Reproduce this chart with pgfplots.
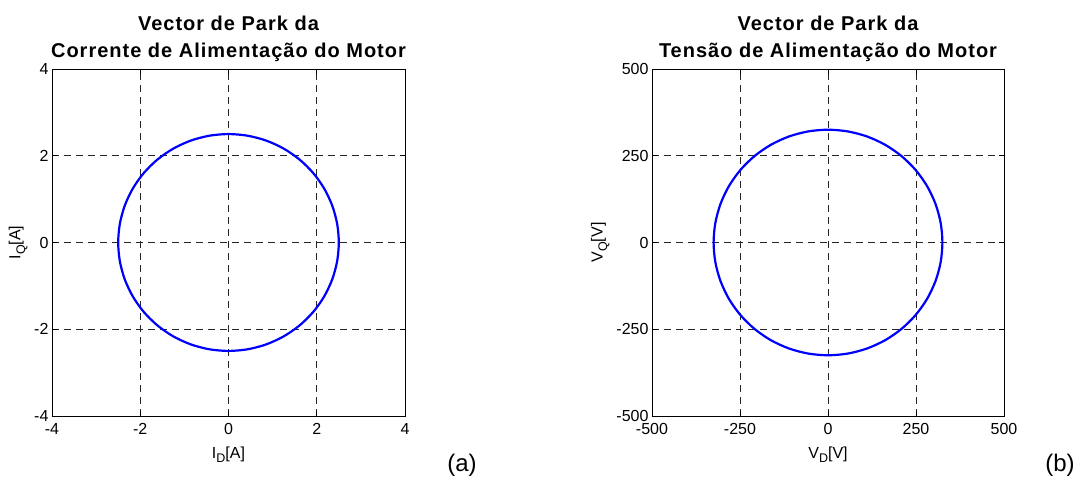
\documentclass[border=0pt]{standalone}
\usepackage{fontspec}
\setmainfont{Liberation Sans}
\newfontfamily\titlefont[LetterSpace=5]{Liberation Sans}
\usepackage{pgfplots}
\pgfplotsset{compat=1.18}
\newcommand{\sub}[1]{\raisebox{-0.55ex}{\fontsize{12.5}{12.5}\selectfont #1}}
\pgfplotsset{
  parkaxis/.style={
    scale only axis,
    width=353pt, height=347pt,
    anchor=south west,
    axis line style={black, line width=0.8pt},
    tick align=inside,
    major tick length=5pt,
    tick style={black, line width=0.6pt},
    grid=major,
    major grid style={black!85, line width=0.6pt, dash pattern=on 7pt off 5pt},
    /pgf/number format/assume math mode=true,
    tick label style={font=\fontsize{16}{19}\selectfont},
    xticklabel style={yshift=-4pt},
    label style={font=\fontsize{16}{19}\selectfont},
    xlabel style={yshift=-5pt},
    title style={font=\titlefont\bfseries\fontsize{20}{27}\selectfont, align=center, yshift=-2pt},
  }
}
\begin{document}
\begin{tikzpicture}
\path[use as bounding box] (0,0) rectangle (1080pt,489pt);
\begin{axis}[parkaxis,
  at={(52pt,73pt)},
  xmin=-4, xmax=4, ymin=-4, ymax=4,
  xtick={-4,-2,0,2,4}, ytick={-4,-2,0,2,4},
  xticklabels={-4,-2,0,2,4}, yticklabels={-4,-2,0,2,4},
  title={Vector de Park da\\Corrente de Alimentação do Motor},
  xlabel={I\sub{D}[A]},
  ylabel={I\sub{Q}[A]},
]
\addplot[color={rgb,255:red,0;green,0;blue,255}, line width=2.2pt, smooth cycle] coordinates {
(2.5,0) (2.4620,0.4341) (2.3492,0.8551) (2.1651,1.25) (1.9151,1.6070) (1.6070,1.9151) (1.25,2.1651) (0.8551,2.3492) (0.4341,2.4620) (0,2.5)
(-0.4341,2.4620) (-0.8551,2.3492) (-1.25,2.1651) (-1.6070,1.9151) (-1.9151,1.6070) (-2.1651,1.25) (-2.3492,0.8551) (-2.4620,0.4341) (-2.5,0)
(-2.4620,-0.4341) (-2.3492,-0.8551) (-2.1651,-1.25) (-1.9151,-1.6070) (-1.6070,-1.9151) (-1.25,-2.1651) (-0.8551,-2.3492) (-0.4341,-2.4620) (0,-2.5)
(0.4341,-2.4620) (0.8551,-2.3492) (1.25,-2.1651) (1.6070,-1.9151) (1.9151,-1.6070) (2.1651,-1.25) (2.3492,-0.8551) (2.4620,-0.4341)
};
\end{axis}
\begin{axis}[parkaxis,
  at={(652pt,73pt)},
  width=352pt,
  xmin=-500, xmax=500, ymin=-500, ymax=500,
  xtick={-500,-250,0,250,500}, ytick={-500,-250,0,250,500},
  xticklabels={-500,-250,0,250,500}, yticklabels={-500,-250,0,250,500},
  title={Vector de Park da\\Tensão de Alimentação do Motor},
  xlabel={V\sub{D}[V]},
  ylabel={V\sub{Q}[V]},
]
\addplot[color={rgb,255:red,0;green,0;blue,255}, line width=2.2pt, smooth cycle] coordinates {
(325,0) (320.06,56.44) (305.40,111.16) (281.46,162.5) (248.96,208.91) (208.91,248.96) (162.5,281.46) (111.16,305.40) (56.44,320.06) (0,325)
(-56.44,320.06) (-111.16,305.40) (-162.5,281.46) (-208.91,248.96) (-248.96,208.91) (-281.46,162.5) (-305.40,111.16) (-320.06,56.44) (-325,0)
(-320.06,-56.44) (-305.40,-111.16) (-281.46,-162.5) (-248.96,-208.91) (-208.91,-248.96) (-162.5,-281.46) (-111.16,-305.40) (-56.44,-320.06) (0,-325)
(56.44,-320.06) (111.16,-305.40) (162.5,-281.46) (208.91,-248.96) (248.96,-208.91) (281.46,-162.5) (305.40,-111.16) (320.06,-56.44)
};
\end{axis}
\node[font=\fontsize{24}{28}\selectfont] at (462pt,24pt) {(a)};
\node[font=\fontsize{24}{28}\selectfont] at (1060pt,24pt) {(b)};
\end{tikzpicture}
\end{document}
